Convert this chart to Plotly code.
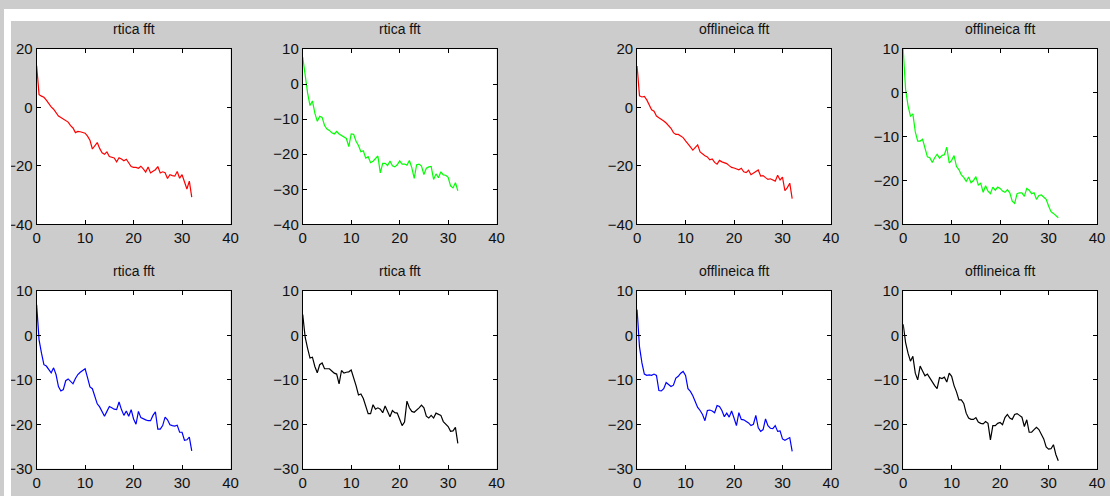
import plotly.graph_objects as go

# frequency bins (x axis)
freq = [0.0, 0.5, 1.0, 1.5, 2.0, 2.5, 3.0, 3.5, 4.0, 4.5, 5.0, 5.5, 6.0, 6.5, 7.0, 7.5,
        8.0, 8.5, 9.0, 9.5, 10.0, 10.5, 11.0, 11.5, 12.0, 12.5, 13.0, 13.5, 14.0, 14.5,
        15.0, 15.5, 16.0, 16.5, 17.0, 17.5, 18.0, 18.5, 19.0, 19.5, 20.0, 20.5, 21.0,
        21.5, 22.0, 22.5, 23.0, 23.5, 24.0, 24.5, 25.0, 25.5, 26.0, 26.5, 27.0, 27.5,
        28.0, 28.5, 29.0, 29.5, 30.0, 30.5, 31.0, 31.5, 32.0]

# spectra (dB) of each component
rtica_c1 = [14.3, 4.4, 3.9, 3.5, 2.5, 1.2, 0.2, -0.6, -1.8, -2.9, -3.4, -3.9, -4.4, -5.0,
            -6.2, -7.0, -8.6, -8.2, -8.3, -8.6, -8.8, -9.8, -11.2, -14.2, -13.0, -12.0,
            -14.0, -15.5, -16.0, -15.2, -16.8, -17.0, -17.3, -18.6, -17.2, -17.6, -18.2,
            -17.7, -19.1, -20.2, -20.5, -20.5, -20.8, -20.1, -21.0, -22.1, -20.4, -22.4,
            -21.8, -21.3, -20.2, -22.4, -22.0, -22.3, -24.3, -23.0, -23.3, -23.5, -21.9,
            -24.2, -23.0, -25.5, -27.9, -25.2, -30.7]
rtica_c2 = [7.7, 2.2, -2.5, -6.1, -4.8, -8.3, -10.6, -9.2, -9.5, -11.8, -12.8, -13.2,
            -13.9, -14.2, -13.5, -14.2, -14.6, -14.9, -15.5, -17.8, -14.2, -14.3, -16.3,
            -17.5, -19.3, -19.0, -21.1, -20.7, -22.4, -22.0, -21.3, -20.5, -25.3, -22.6,
            -22.6, -23.2, -21.9, -23.3, -23.6, -23.0, -21.9, -22.8, -22.8, -23.1, -21.8,
            -23.8, -26.9, -23.0, -22.8, -23.4, -25.8, -24.0, -23.6, -23.5, -27.2, -25.6,
            -26.7, -25.0, -25.9, -26.0, -26.6, -29.0, -29.6, -28.1, -30.4]
offline_c1 = [14.2, 4.0, 3.6, 3.8, 2.6, 0.6, -0.8, -1.3, -2.9, -3.5, -4.0, -4.6, -5.3,
              -6.2, -7.1, -8.6, -9.2, -9.2, -9.7, -10.3, -11.4, -12.3, -13.5, -14.6,
              -13.5, -12.8, -15.2, -16.0, -16.5, -16.9, -17.9, -17.6, -18.8, -19.4,
              -18.1, -18.6, -19.0, -19.2, -19.9, -20.5, -20.7, -21.0, -21.3, -20.8,
              -22.0, -22.3, -21.5, -23.0, -22.5, -21.9, -21.4, -23.5, -23.3, -24.0,
              -24.6, -24.4, -24.7, -25.2, -23.2, -24.8, -23.8, -28.5, -27.4, -25.9, -31.2]
offline_c2 = [10.0, 0.8, -2.9, -5.3, -4.8, -8.9, -11.0, -11.0, -10.6, -12.8, -14.6,
              -14.8, -15.9, -14.8, -14.0, -14.9, -14.3, -14.1, -12.4, -16.0, -15.4,
              -14.3, -16.8, -17.5, -18.7, -19.3, -20.2, -19.2, -20.5, -20.0, -19.1,
              -21.0, -20.6, -22.7, -21.2, -22.4, -23.0, -21.5, -22.2, -21.5, -21.8,
              -22.4, -22.7, -22.1, -22.8, -24.7, -25.2, -23.0, -22.8, -22.8, -23.6,
              -21.8, -22.2, -23.0, -22.8, -24.3, -23.4, -23.3, -23.9, -24.3, -25.8,
              -27.1, -27.5, -28.1, -28.5]
rtica_c3 = [6.9, -1.0, -4.0, -6.6, -6.9, -7.7, -8.4, -7.3, -8.8, -11.5, -12.5, -12.2,
            -10.2, -9.8, -10.4, -10.9, -9.7, -8.8, -8.3, -7.8, -7.5, -9.5, -11.6, -12.0,
            -13.8, -15.4, -16.1, -17.1, -18.2, -17.1, -16.0, -16.3, -16.6, -16.7, -15.0,
            -16.7, -18.0, -17.0, -18.2, -16.7, -18.8, -20.0, -17.1, -18.5, -18.8, -19.0,
            -19.2, -19.2, -18.0, -17.2, -21.1, -21.1, -20.3, -18.4, -19.0, -20.1, -20.3,
            -20.4, -20.2, -21.8, -21.8, -23.6, -23.5, -22.9, -26.0]
rtica_c4 = [4.7, -0.4, -2.9, -5.1, -4.9, -7.0, -8.4, -6.6, -6.2, -7.5, -7.5, -7.5, -8.0,
            -8.5, -8.7, -10.9, -7.9, -8.5, -8.3, -8.2, -7.8, -9.4, -11.3, -13.4, -13.2,
            -14.2, -16.0, -17.6, -17.6, -15.6, -16.6, -16.3, -16.6, -17.4, -15.9, -17.0,
            -18.3, -16.9, -17.4, -17.5, -18.8, -20.3, -19.5, -14.8, -16.3, -17.1, -17.3,
            -16.9, -16.3, -15.7, -16.3, -18.2, -18.6, -18.0, -18.6, -17.5, -17.8, -18.0,
            -19.4, -20.0, -20.5, -21.6, -21.5, -20.7, -24.3]
offline_c3 = [5.8, -2.6, -6.2, -8.7, -9.0, -8.9, -9.0, -8.7, -9.0, -12.4, -12.5, -12.0,
              -10.6, -11.0, -11.5, -11.2, -9.6, -9.2, -8.5, -8.1, -9.0, -12.0, -12.6,
              -13.6, -14.8, -16.2, -16.9, -17.8, -19.2, -16.9, -16.8, -17.0, -17.4,
              -15.8, -16.0, -16.9, -18.3, -17.5, -18.4, -17.0, -18.6, -20.3, -17.4,
              -18.9, -19.0, -19.3, -19.7, -20.3, -20.0, -18.0, -20.8, -21.6, -21.2,
              -18.8, -20.3, -20.9, -21.0, -20.3, -21.6, -21.5, -23.3, -23.6, -23.2,
              -23.0, -26.1]
offline_c4 = [2.5, -1.6, -4.0, -5.8, -4.7, -8.5, -10.0, -6.9, -8.0, -9.1, -8.7, -9.6,
              -10.7, -11.3, -12.0, -9.5, -9.7, -9.4, -10.5, -8.5, -9.2, -11.3, -12.7,
              -14.5, -14.5, -15.3, -17.5, -18.6, -18.9, -18.9, -18.5, -19.5, -19.8,
              -19.9, -19.4, -19.8, -23.5, -20.3, -20.3, -19.8, -19.6, -20.1, -18.5,
              -17.8, -18.6, -18.9, -17.8, -17.6, -18.0, -18.4, -20.5, -19.0, -21.8,
              -21.8, -21.2, -20.7, -21.2, -22.3, -23.3, -25.1, -25.6, -25.5, -24.6,
              -26.8, -28.2]

titles = ["rtica fft", "rtica fft", "offlineica fft", "offlineica fft",
          "rtica fft", "rtica fft", "offlineica fft", "offlineica fft"]
series = [rtica_c1, rtica_c2, offline_c1, offline_c2,
          rtica_c3, rtica_c4, offline_c3, offline_c4]
colors = ["#ff0000", "#00ff00", "#ff0000", "#00ff00",
          "#0000ff", "#000000", "#0000ff", "#000000"]
y_ranges = [(-40, 20), (-40, 10), (-40, 20), (-30, 10),
            (-30, 10), (-30, 10), (-30, 10), (-30, 10)]
y_steps = [20, 10, 20, 10, 10, 10, 10, 10]

W, H = 1110, 496
col_px = [(33, 229), (302, 498), (640, 836), (909, 1105)]
row_px = [(41.5, 223), (292, 476)]

FONT = "Liberation Sans, Arial, sans-serif"
TXT = "#111111"

# white bands along the top and left edges of the window
edge_bands = [
    dict(text="", x=0, y=1, width=W, height=12),
    dict(text="", x=0, y=1, width=7, height=H),
]
annotations = [
    dict(b, xref="paper", yref="paper", xanchor="left", yanchor="top",
         showarrow=False, bgcolor="#ffffff", borderpad=0, borderwidth=0)
    for b in edge_bands
]

fig = go.Figure()
layout = dict(
    width=W, height=H,
    margin=dict(l=0, r=0, t=0, b=0),
    paper_bgcolor="#cccccc",
    plot_bgcolor="#ffffff",
    showlegend=False,
    font=dict(family=FONT, size=15, color=TXT),
    annotations=annotations,
)

for i, (ys, col, title) in enumerate(zip(series, colors, titles)):
    r, c = divmod(i, 4)
    n = i + 1
    xa = "x" if n == 1 else f"x{n}"
    ya = "y" if n == 1 else f"y{n}"
    fig.add_trace(go.Scatter(x=freq, y=ys, mode="lines",
                             line=dict(color=col, width=1.2),
                             xaxis=xa, yaxis=ya, hoverinfo="skip"))
    x0, x1 = col_px[c]
    top, bot = row_px[r]
    xdom = [x0 / W, x1 / W]
    ydom = [1 - bot / H, 1 - top / H]
    axis_common = dict(showgrid=False, zeroline=False, showline=True,
                       linecolor="#000000", linewidth=1, mirror="ticks",
                       ticks="inside", ticklen=4, tickcolor="#000000",
                       tickfont=dict(family=FONT, size=15, color=TXT))
    lo, hi = y_ranges[i]
    layout["xaxis" if n == 1 else f"xaxis{n}"] = dict(
        domain=xdom, range=[0, 40], dtick=10, tick0=0,
        anchor=ya, **axis_common)
    layout["yaxis" if n == 1 else f"yaxis{n}"] = dict(
        domain=ydom, range=[lo, hi], dtick=y_steps[i], tick0=0,
        anchor=xa, **axis_common)
    layout["annotations"].append(dict(
        text=title, xref="paper", yref="paper",
        x=(xdom[0] + xdom[1]) / 2, y=ydom[1],
        xanchor="center", yanchor="bottom", yshift=10, showarrow=False,
        font=dict(family=FONT, size=14, color=TXT)))

fig.update_layout(**layout)
fig.write_html("out.html")
